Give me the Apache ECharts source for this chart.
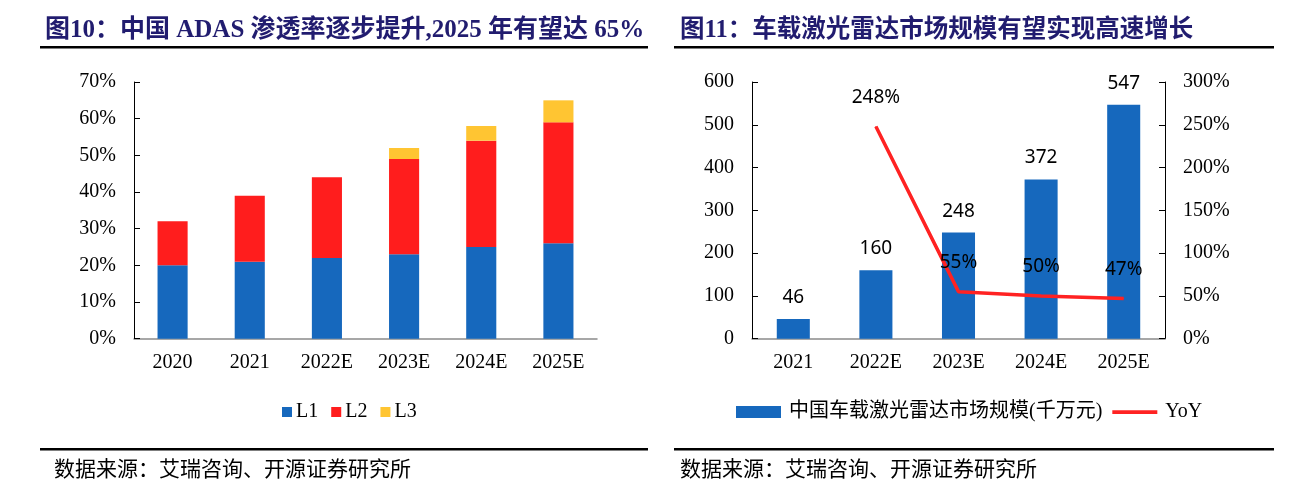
<!DOCTYPE html>
<html>
<head>
<meta charset="utf-8">
<script src="https://cdn.jsdelivr.net/npm/echarts@6/dist/echarts.min.js"></script>
<style>
html,body{margin:0;padding:0;background:#fff;}
#c{width:1296px;height:485px;}
</style>
</head>
<body>
<div id="c"></div>
<script>
// Left chart data (ADAS penetration, %)
const adasYears = ['2020', '2021', '2022E', '2023E', '2024E', '2025E'];
const l1 = [20, 21, 22, 23, 25, 26];
const l2 = [12, 18, 22, 26, 29, 33];
const l3 = [0, 0, 0, 3, 4, 6];
const leftTicks = [0, 10, 20, 30, 40, 50, 60, 70];

// Right chart data (LiDAR market size, 千万元 ; YoY %)
const lidarYears = ['2021', '2022E', '2023E', '2024E', '2025E'];
const marketSize = [46, 160, 248, 372, 547];
const yoy = [null, 248, 55, 50, 47];

const SERIF = '"Liberation Serif","Times New Roman","Noto Sans CJK SC",serif';
const CJK = '"Liberation Serif","Noto Sans CJK SC",serif';
const SANS = '"Noto Sans","DejaVu Sans",sans-serif';
const NAVY = '#211c6f';
const BLUE = '#1668bd';
const RED = '#ff1d1d';
const YELLOW = '#ffc532';
const LINE_RED = '#ff2222';

const chart = echarts.init(document.getElementById('c'));

const axisLabelStyle = {color: '#000', fontFamily: SERIF, fontSize: 20};

chart.setOption({
  animation: false,
  backgroundColor: '#fff',
  title: [
    {text: '图10：中国 ADAS 渗透率逐步提升,2025 年有望达 65%', left: 40, top: 13,
     textStyle: {color: NAVY, fontFamily: CJK, fontSize: 25, fontWeight: 'bold'}},
    {text: '图11：车载激光雷达市场规模有望实现高速增长', left: 675, top: 13,
     textStyle: {color: NAVY, fontFamily: CJK, fontSize: 24.5, fontWeight: 'bold'}},
    {text: '数据来源：艾瑞咨询、开源证券研究所', left: 49, top: 455,
     textStyle: {color: '#000', fontFamily: CJK, fontSize: 21, fontWeight: 'normal'}},
    {text: '数据来源：艾瑞咨询、开源证券研究所', left: 675, top: 455,
     textStyle: {color: '#000', fontFamily: CJK, fontSize: 21, fontWeight: 'normal'}}
  ],
  graphic: [
    {type: 'rect', shape: {x: 40, y: 46, width: 608, height: 2.5}, style: {fill: '#000'}},
    {type: 'rect', shape: {x: 674, y: 46, width: 600, height: 2.5}, style: {fill: '#000'}},
    {type: 'rect', shape: {x: 40, y: 448, width: 608, height: 2.5}, style: {fill: '#000'}},
    {type: 'rect', shape: {x: 674, y: 448, width: 600, height: 2.5}, style: {fill: '#000'}}
  ],
  legend: [
    {data: ['L1', 'L2', 'L3'], left: 277, top: 397, itemWidth: 10, itemHeight: 10, itemGap: 13,
     icon: 'rect',
     textStyle: {color: '#000', fontFamily: SERIF, fontSize: 20, padding: [0, 0, 0, -1]}},
    {data: [
       {name: '中国车载激光雷达市场规模(千万元)', icon: 'rect'},
       {name: 'YoY', icon: 'path://M0,0 L48,0 L48,4 L0,4 Z', itemStyle: {color: LINE_RED}}
     ],
     left: 731, top: 397, itemWidth: 45, itemHeight: 12, itemGap: 10,
     textStyle: {color: '#000', fontFamily: CJK, fontSize: 20, padding: [0, 0, 0, 3]}}
  ],
  grid: [
    {left: 134, right: 1296 - 597, top: 82, bottom: 146.3},
    {left: 752, right: 1296 - 1165, top: 82, bottom: 146.3}
  ],
  xAxis: [
    {type: 'category', gridIndex: 0, data: adasYears,
     axisLine: {lineStyle: {color: '#8a8a8a', width: 1.5}},
     axisTick: {inside: true, length: 5, lineStyle: {color: '#8a8a8a'}},
     axisLabel: Object.assign({margin: 14}, axisLabelStyle)},
    {type: 'category', gridIndex: 1, data: lidarYears,
     axisLine: {lineStyle: {color: '#8a8a8a', width: 1.5}},
     axisTick: {inside: true, length: 5, lineStyle: {color: '#8a8a8a'}},
     axisLabel: Object.assign({margin: 14}, axisLabelStyle)}
  ],
  yAxis: [
    {type: 'value', gridIndex: 0, min: leftTicks[0], max: leftTicks[leftTicks.length - 1], interval: 10,
     axisLine: {show: true, lineStyle: {color: '#000', width: 1}},
     axisTick: {show: true, inside: true, length: 6, lineStyle: {color: '#000'}},
     splitLine: {show: false},
     axisLabel: Object.assign({margin: 18, formatter: '{value}%'}, axisLabelStyle)},
    {type: 'value', gridIndex: 1, min: 0, max: 600, interval: 100,
     axisLine: {show: true, lineStyle: {color: '#000', width: 1}},
     axisTick: {show: true, inside: true, length: 6, lineStyle: {color: '#000'}},
     splitLine: {show: false},
     axisLabel: Object.assign({margin: 18}, axisLabelStyle)},
    {type: 'value', gridIndex: 1, position: 'right', min: 0, max: 300, interval: 50,
     axisLine: {show: true, lineStyle: {color: '#000', width: 1}},
     axisTick: {show: true, inside: true, length: 6, lineStyle: {color: '#000'}},
     splitLine: {show: false},
     axisLabel: Object.assign({margin: 18, formatter: '{value}%'}, axisLabelStyle)}
  ],
  series: [
    {name: 'L1', type: 'bar', stack: 'a', xAxisIndex: 0, yAxisIndex: 0, data: l1,
     barWidth: '39%', itemStyle: {color: BLUE}},
    {name: 'L2', type: 'bar', stack: 'a', xAxisIndex: 0, yAxisIndex: 0, data: l2,
     itemStyle: {color: RED}},
    {name: 'L3', type: 'bar', stack: 'a', xAxisIndex: 0, yAxisIndex: 0, data: l3,
     itemStyle: {color: YELLOW}},
    {name: '中国车载激光雷达市场规模(千万元)', type: 'bar', xAxisIndex: 1, yAxisIndex: 1, data: marketSize,
     barWidth: '40%', itemStyle: {color: BLUE},
     label: {show: true, position: 'top', distance: 12, color: '#000', fontFamily: SANS, fontSize: 19}},
    {name: 'YoY', type: 'line', xAxisIndex: 1, yAxisIndex: 2, data: yoy,
     symbol: 'circle', symbolSize: 1, showSymbol: true,
     lineStyle: {color: LINE_RED, width: 3.5}, itemStyle: {color: LINE_RED}, z: 5,
     label: {show: true, position: 'top', distance: 19, color: '#000', fontFamily: SANS, fontSize: 19,
             formatter: '{c}%'}}
  ]
});
</script>
</body>
</html>
